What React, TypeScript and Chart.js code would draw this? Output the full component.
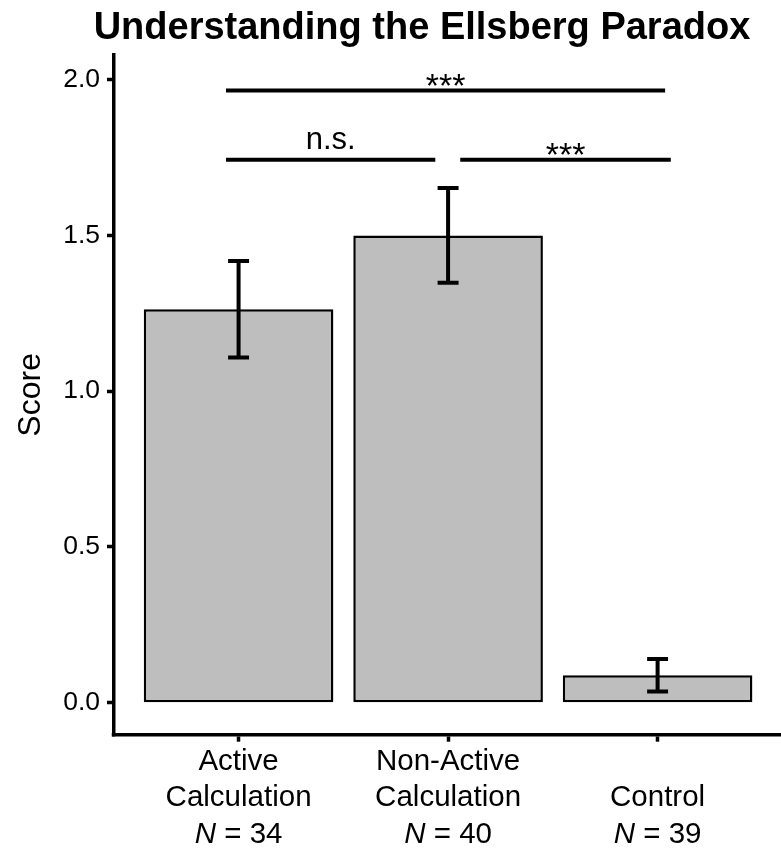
import React, { useEffect, useRef } from "react";
import { Chart, registerables } from "chart.js";

Chart.register(...registerables);

// ---------- data ----------
const categoryPositions = [0, 1, 2];
const labelLine1 = ["Active", "Non-Active", ""];
const labelLine2 = ["Calculation", "Calculation", "Control"];
const sampleSizes = [34, 40, 39];
const meanScores = [1.263, 1.5, 0.088];
const errorHalf = [0.155, 0.152, 0.052];
const yTickValues = [0, 0.5, 1.0, 1.5, 2.0];
const bracketStart = [-0.06, 1.058, -0.06];
const bracketEnd = [0.939, 2.063, 2.036];
const bracketY = [1.743, 1.743, 1.965];
const bracketLabels = ["n.s.", "***", "***"];
const chartTitle = "Understanding the Ellsberg Paradox";
const yAxisTitle = "Score";

const FONT = '"Liberation Sans", Arial, Helvetica, sans-serif';

const overlayPlugin = {
  id: "overlay",
  afterDatasetsDraw(chart: any) {
    const { ctx, scales, chartArea } = chart;
    const x = scales.x;
    const y = scales.y;
    ctx.save();
    ctx.strokeStyle = "#000";
    ctx.fillStyle = "#000";
    ctx.lineCap = "butt";
    ctx.lineWidth = 4;
    // error bars
    categoryPositions.forEach((c, i) => {
      const px = x.getPixelForValue(c);
      const hi = y.getPixelForValue(meanScores[i] + errorHalf[i]);
      const lo = y.getPixelForValue(meanScores[i] - errorHalf[i]);
      const half = x.getPixelForValue(c + 0.05) - px;
      ctx.beginPath();
      ctx.moveTo(px - half, hi);
      ctx.lineTo(px + half, hi);
      ctx.moveTo(px, hi);
      ctx.lineTo(px, lo);
      ctx.moveTo(px - half, lo);
      ctx.lineTo(px + half, lo);
      ctx.stroke();
    });
    // significance brackets
    bracketY.forEach((bv, i) => {
      const x1 = x.getPixelForValue(bracketStart[i]);
      const x2 = x.getPixelForValue(bracketEnd[i]);
      const py = y.getPixelForValue(bv);
      ctx.beginPath();
      ctx.moveTo(x1, py);
      ctx.lineTo(x2, py);
      ctx.stroke();
      const label = bracketLabels[i];
      const isStars = label === "***";
      ctx.font = `${isStars ? 34 : 31}px ${FONT}`;
      ctx.textAlign = "center";
      ctx.textBaseline = "alphabetic";
      const m = ctx.measureText(label);
      const gap = isStars ? 5 : 10.4;
      const baseline = py - gap - m.actualBoundingBoxDescent;
      ctx.fillText(label, (x1 + x2) / 2, baseline);
    });
    // fill the axes corner
    ctx.fillRect(chartArea.left - 1.75, chartArea.bottom - 1.75, 3.5, 3.5);
    ctx.restore();
  },
  afterDraw(chart: any) {
    const { ctx, scales, chartArea } = chart;
    const x = scales.x;
    ctx.save();
    ctx.fillStyle = "#000";
    ctx.textBaseline = "alphabetic";
    // title
    ctx.font = `bold 38px ${FONT}`;
    ctx.textAlign = "center";
    ctx.fillText(chartTitle, 422, 39);
    // x labels
    const base = chartArea.bottom;
    const normal = `29.5px ${FONT}`;
    const italic = `italic 29.5px ${FONT}`;
    categoryPositions.forEach((c, i) => {
      const px = x.getPixelForValue(c);
      ctx.font = normal;
      ctx.textAlign = "center";
      if (labelLine1[i]) ctx.fillText(labelLine1[i], px, base + 35);
      ctx.fillText(labelLine2[i], px, base + 71.5);
      ctx.font = italic;
      const wN = ctx.measureText("N").width;
      ctx.font = normal;
      const rest = ` = ${sampleSizes[i]}`;
      const wR = ctx.measureText(rest).width;
      const start = px - (wN + wR) / 2;
      ctx.textAlign = "left";
      ctx.font = italic;
      ctx.fillText("N", start, base + 108.5);
      ctx.font = normal;
      ctx.fillText(rest, start + wN, base + 108.5);
    });
    ctx.restore();
  },
};

export default function App() {
  const canvasRef = useRef<HTMLCanvasElement | null>(null);

  useEffect(() => {
    if (!canvasRef.current) return;
    const chart = new Chart(canvasRef.current, {
      type: "bar",
      data: {
        datasets: [
          {
            data: categoryPositions.map((c, i) => ({ x: c, y: meanScores[i] })),
            backgroundColor: "#BEBEBE",
            borderColor: "#000",
            borderWidth: 2.5,
            borderSkipped: false,
            barPercentage: 0.905,
            categoryPercentage: 1,
          },
        ],
      },
      options: {
        animation: false,
        responsive: true,
        maintainAspectRatio: false,
        layout: { padding: { top: 55, left: 0, right: 0, bottom: 0 } },
        plugins: {
          legend: { display: false },
          tooltip: { enabled: false },
          title: { display: false },
        },
        scales: {
          x: {
            type: "linear",
            offset: false,
            min: -0.597,
            max: 2.589,
            afterBuildTicks: (s: any) => {
              s.ticks = categoryPositions.map((v) => ({ value: v }));
            },
            afterFit: (s: any) => {
              s.height = 849 - 734.7;
            },
            ticks: { display: false },
            grid: {
              display: true,
              offset: false,
              drawOnChartArea: false,
              drawTicks: true,
              tickLength: 7,
              tickWidth: 3.5,
              tickColor: "#000",
            },
            border: { display: true, color: "#000", width: 3.5 },
          },
          y: {
            type: "linear",
            min: -0.1027,
            max: 2.079,
            afterBuildTicks: (s: any) => {
              s.ticks = yTickValues.map((v) => ({ value: v }));
            },
            afterFit: (s: any) => {
              s.width = 113.5;
            },
            ticks: {
              color: "#000",
              font: { family: FONT, size: 26.5 },
              padding: 7,
              callback: (v: any) => Number(v).toFixed(1),
            },
            grid: {
              display: true,
              drawOnChartArea: false,
              drawTicks: true,
              tickLength: 6.5,
              tickWidth: 3.5,
              tickColor: "#000",
            },
            border: { display: true, color: "#000", width: 3.5 },
            title: {
              display: true,
              text: yAxisTitle,
              color: "#000",
              font: { family: FONT, size: 32 },
              padding: { top: 12, bottom: 0 },
            },
          },
        },
      },
      plugins: [overlayPlugin],
    });
    return () => chart.destroy();
  }, []);

  return (
    <div style={{ position: "absolute", left: 0, top: 0, width: 781, height: 849, background: "#fff" }}>
      <canvas ref={canvasRef} />
    </div>
  );
}
